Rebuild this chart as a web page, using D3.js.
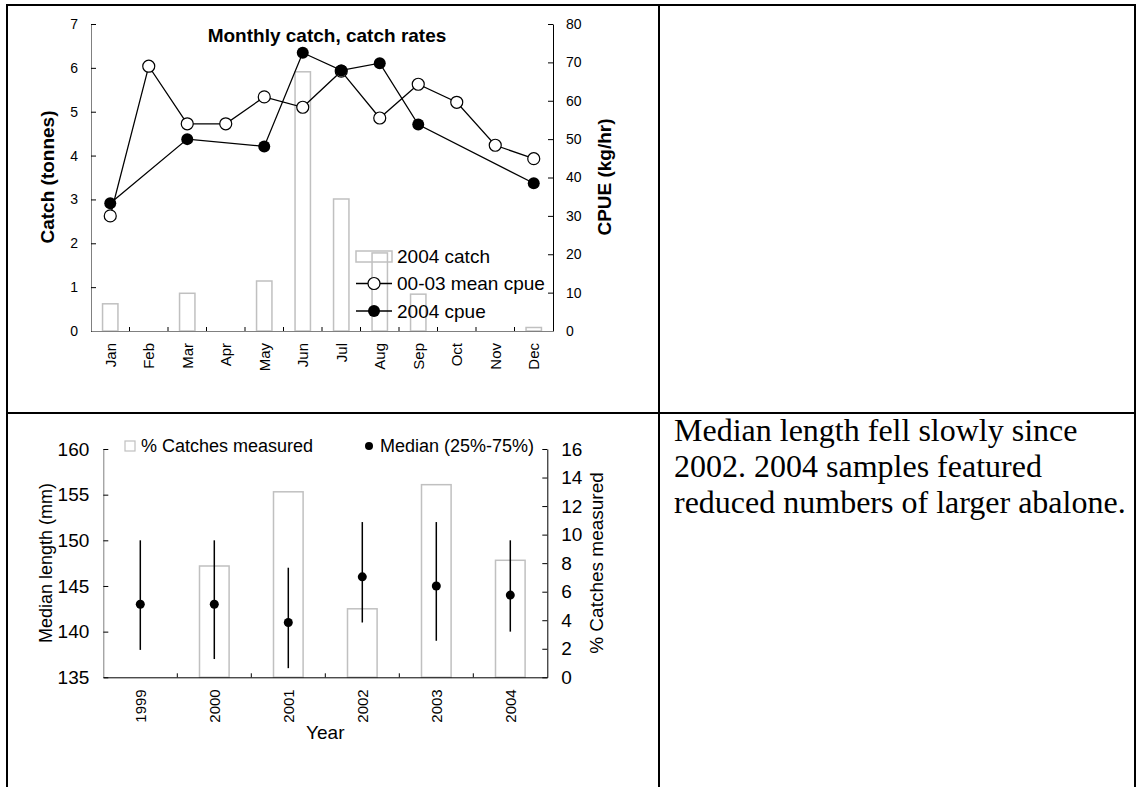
<!DOCTYPE html>
<html>
<head>
<meta charset="utf-8">
<script src="https://cdn.jsdelivr.net/npm/d3@7"></script>
<style>
body { margin: 0; background: #fff; }
</style>
</head>
<body>
<svg id="chart" width="1137" height="787"></svg>
<script>
// monthly catch + catch rates (top chart)
const months = ["Jan", "Feb", "Mar", "Apr", "May", "Jun", "Jul", "Aug", "Sep", "Oct", "Nov", "Dec"];
const catch2004 = [0.62, 0, 0.86, 0, 1.14, 5.91, 3.01, 1.78, 0.84, 0, 0, 0.08];
const cpueMean0003 = [30.0, 69.0, 54.0, 54.0, 61.0, 58.3, 67.7, 55.5, 64.3, 59.6, 48.4, 44.9];
const cpue2004 = [33.3, null, 50.0, null, 48.1, 72.5, 67.9, 69.8, 53.8, null, null, 38.5];
const catchTicks = [0, 1, 2, 3, 4, 5, 6, 7];
const cpueTicks = [0, 10, 20, 30, 40, 50, 60, 70, 80];

// length samples (bottom chart)
const years = ["1999", "2000", "2001", "2002", "2003", "2004"];
const pctMeasured = [0, 7.8, 13.0, 4.8, 13.5, 8.2];
const medianLen = [143, 143, 141, 146, 145, 144];
const lenQ25 = [138, 137, 136, 141, 139, 140];
const lenQ75 = [150, 150, 147, 152, 152, 150];
const lenTicks = [135, 140, 145, 150, 155, 160];
const pctTicks = [0, 2, 4, 6, 8, 10, 12, 14, 16];

const noteLines = ["Median length fell slowly since", "2002. 2004 samples featured", "reduced numbers of larger abalone."];

const sans = "'Liberation Sans', Arial, sans-serif";
const serif = "'Liberation Serif', 'Times New Roman', serif";
const barGrey = "#c0c0c0";
const fmt = d3.format("d");

var svg = d3.select("#chart");
svg.append("rect").attr("width", 1137).attr("height", 787).attr("fill", "#fff");

// table grid
var grid = svg.append("g").attr("stroke", "#000").attr("stroke-width", 2);
grid.append("line").attr("x1", 7).attr("x2", 7).attr("y1", 4).attr("y2", 787);
grid.append("line").attr("x1", 659).attr("x2", 659).attr("y1", 4).attr("y2", 787);
grid.append("line").attr("x1", 1135).attr("x2", 1135).attr("y1", 4).attr("y2", 787);
grid.append("line").attr("x1", 6).attr("x2", 1136).attr("y1", 5).attr("y2", 5);
grid.append("line").attr("x1", 6).attr("x2", 1136).attr("y1", 413).attr("y2", 413);

function styleAxis(g, size, domainColor) {
    g.attr("font-family", sans).attr("font-size", size);
    g.select(".domain").attr("stroke", domainColor);
    g.selectAll(".tick line").attr("stroke", "#000");
    g.selectAll("text").attr("fill", "#000");
}

// ---------- top chart ----------
var monthly = svg.append("g");
var x1 = d3.scaleBand().domain(months).range([91, 553]);
var yC = d3.scaleLinear().domain([0, 7]).range([331, 24]);
var yR = d3.scaleLinear().domain([0, 80]).range([331, 24]);

var monthData = months.map((m, i) => ({ m: m, c: catch2004[i], mean: cpueMean0003[i], v: cpue2004[i] }));

monthly.selectAll("rect.bar")
    .data(monthData.filter(d => d.c > 0))
    .join("rect")
    .attr("class", "bar")
    .attr("x", d => x1(d.m) + x1.bandwidth() * 0.3)
    .attr("width", x1.bandwidth() * 0.4)
    .attr("y", d => yC(d.c))
    .attr("height", d => yC(0) - yC(d.c))
    .attr("fill", "none")
    .attr("stroke", barGrey)
    .attr("stroke-width", 1.5);

var axL = monthly.append("g")
    .attr("transform", "translate(91,0)")
    .call(d3.axisLeft(yC).tickValues(catchTicks).tickFormat(fmt).tickSizeInner(-5).tickSizeOuter(0).tickPadding(13));
styleAxis(axL, 14, "#808080");

var axR = monthly.append("g")
    .attr("transform", "translate(553,0)")
    .call(d3.axisRight(yR).tickValues(cpueTicks).tickFormat(fmt).tickSizeInner(-5).tickSizeOuter(0).tickPadding(13));
styleAxis(axR, 14, "#000");

var axB = monthly.append("g")
    .attr("transform", "translate(0,331)")
    .call(d3.axisBottom(x1).tickSize(0).tickPadding(0));
styleAxis(axB, 15, "#808080");
axB.selectAll("text")
    .attr("transform", "rotate(-90)")
    .attr("text-anchor", "end")
    .attr("x", -12)
    .attr("y", 0)
    .attr("dy", "0.35em");
monthly.selectAll("line.mtick")
    .data(months.slice(1))
    .join("line")
    .attr("class", "mtick")
    .attr("x1", d => x1(d)).attr("x2", d => x1(d))
    .attr("y1", yC(0)).attr("y2", yC(0) - 4)
    .attr("stroke", "#000");

var cx = d => x1(d.m) + x1.bandwidth() / 2;
var lineMean = d3.line().x(cx).y(d => yR(d.mean));
var line2004 = d3.line().x(cx).y(d => yR(d.v));
var pts2004 = monthData.filter(d => d.v != null);

monthly.append("path").attr("d", lineMean(monthData))
    .attr("fill", "none").attr("stroke", "#000").attr("stroke-width", 1.3);
monthly.selectAll("circle.mean")
    .data(monthData)
    .join("circle")
    .attr("class", "mean")
    .attr("cx", cx).attr("cy", d => yR(d.mean)).attr("r", 6)
    .attr("fill", "#fff").attr("stroke", "#000").attr("stroke-width", 1.2);

monthly.append("path").attr("d", line2004(pts2004))
    .attr("fill", "none").attr("stroke", "#000").attr("stroke-width", 1.3);
monthly.selectAll("circle.c04")
    .data(pts2004)
    .join("circle")
    .attr("class", "c04")
    .attr("cx", cx).attr("cy", d => yR(d.v)).attr("r", 6)
    .attr("fill", "#000");

monthly.append("text")
    .attr("x", 327).attr("y", 42)
    .attr("text-anchor", "middle")
    .attr("font-family", sans).attr("font-size", 19).attr("font-weight", "bold")
    .text("Monthly catch, catch rates");

monthly.append("text")
    .attr("transform", "translate(47,177) rotate(-90)")
    .attr("text-anchor", "middle").attr("dy", "0.35em")
    .attr("font-family", sans).attr("font-size", 19).attr("font-weight", "bold")
    .text("Catch (tonnes)");

monthly.append("text")
    .attr("transform", "translate(604,177) rotate(-90)")
    .attr("text-anchor", "middle").attr("dy", "0.35em")
    .attr("font-family", sans).attr("font-size", 19).attr("font-weight", "bold")
    .text("CPUE (kg/hr)");

// legend
var leg = monthly.append("g").attr("font-family", sans).attr("font-size", 19);
leg.append("rect").attr("x", 356).attr("y", 251).attr("width", 36).attr("height", 11)
    .attr("fill", "none").attr("stroke", barGrey).attr("stroke-width", 1.5);
leg.append("text").attr("x", 397).attr("y", 256).attr("dy", "0.35em").text("2004 catch");
leg.append("line").attr("x1", 356).attr("x2", 392).attr("y1", 283.5).attr("y2", 283.5)
    .attr("stroke", "#000").attr("stroke-width", 1.3);
leg.append("circle").attr("cx", 374).attr("cy", 283.5).attr("r", 6)
    .attr("fill", "#fff").attr("stroke", "#000").attr("stroke-width", 1.2);
leg.append("text").attr("x", 397).attr("y", 283.5).attr("dy", "0.35em").text("00-03 mean cpue");
leg.append("line").attr("x1", 356).attr("x2", 392).attr("y1", 311).attr("y2", 311)
    .attr("stroke", "#000").attr("stroke-width", 1.3);
leg.append("circle").attr("cx", 374).attr("cy", 311).attr("r", 6).attr("fill", "#000");
leg.append("text").attr("x", 397).attr("y", 311).attr("dy", "0.35em").text("2004 cpue");

// ---------- bottom chart ----------
var lengths = svg.append("g");
var x2 = d3.scaleBand().domain(years).range([103.3, 547.3]);
var yL = d3.scaleLinear().domain([135, 160]).range([677.3, 449]);
var yP = d3.scaleLinear().domain([0, 16]).range([677.3, 449]);

var yearData = years.map((y, i) => ({ y: y, p: pctMeasured[i], med: medianLen[i], lo: lenQ25[i], hi: lenQ75[i] }));
var cx2 = d => x2(d.y) + x2.bandwidth() / 2;

lengths.selectAll("rect.pbar")
    .data(yearData.filter(d => d.p > 0))
    .join("rect")
    .attr("class", "pbar")
    .attr("x", d => x2(d.y) + x2.bandwidth() * 0.3)
    .attr("width", x2.bandwidth() * 0.4)
    .attr("y", d => yP(d.p))
    .attr("height", d => yP(0) - yP(d.p))
    .attr("fill", "#fff")
    .attr("stroke", barGrey)
    .attr("stroke-width", 1.5);

var axL2 = lengths.append("g")
    .attr("transform", "translate(103.3,0)")
    .call(d3.axisLeft(yL).tickValues(lenTicks).tickFormat(fmt).tickSizeInner(-5).tickSizeOuter(0).tickPadding(14));
styleAxis(axL2, 19, "#808080");

var axR2 = lengths.append("g")
    .attr("transform", "translate(547.3,0)")
    .call(d3.axisRight(yP).tickValues(pctTicks).tickFormat(fmt).tickSizeInner(-5).tickSizeOuter(0).tickPadding(14));
styleAxis(axR2, 19, "#000");

var axB2 = lengths.append("g")
    .attr("transform", "translate(0,677.3)")
    .call(d3.axisBottom(x2).tickSize(0).tickPadding(0));
styleAxis(axB2, 15, "#000");
axB2.selectAll("text")
    .attr("transform", "rotate(-90)")
    .attr("text-anchor", "end")
    .attr("x", -12)
    .attr("y", 0)
    .attr("dy", "0.35em");
lengths.selectAll("line.ytick")
    .data(years.slice(1))
    .join("line")
    .attr("class", "ytick")
    .attr("x1", d => x2(d)).attr("x2", d => x2(d))
    .attr("y1", yL(135)).attr("y2", yL(135) - 4)
    .attr("stroke", "#000");

lengths.selectAll("line.whisker")
    .data(yearData)
    .join("line")
    .attr("class", "whisker")
    .attr("x1", cx2).attr("x2", cx2)
    .attr("y1", d => yL(d.lo)).attr("y2", d => yL(d.hi))
    .attr("stroke", "#000").attr("stroke-width", 1.5);
lengths.selectAll("circle.med")
    .data(yearData)
    .join("circle")
    .attr("class", "med")
    .attr("cx", cx2).attr("cy", d => yL(d.med)).attr("r", 4.5)
    .attr("fill", "#000");

lengths.append("text")
    .attr("transform", "translate(46,563) rotate(-90)")
    .attr("text-anchor", "middle").attr("dy", "0.35em")
    .attr("font-family", sans).attr("font-size", 18)
    .text("Median length (mm)");
lengths.append("text")
    .attr("transform", "translate(596,563) rotate(-90)")
    .attr("text-anchor", "middle").attr("dy", "0.35em")
    .attr("font-family", sans).attr("font-size", 19)
    .text("% Catches measured");
lengths.append("text")
    .attr("x", (103.3 + 547.3) / 2).attr("y", 739)
    .attr("text-anchor", "middle")
    .attr("font-family", sans).attr("font-size", 19)
    .text("Year");

var leg2 = lengths.append("g").attr("font-family", sans).attr("font-size", 18);
leg2.append("rect").attr("x", 125).attr("y", 441).attr("width", 10).attr("height", 10)
    .attr("fill", "#fff").attr("stroke", barGrey).attr("stroke-width", 1.2);
leg2.append("text").attr("x", 141).attr("y", 446).attr("dy", "0.35em").text("% Catches measured");
leg2.append("circle").attr("cx", 369).attr("cy", 446).attr("r", 4).attr("fill", "#000");
leg2.append("text").attr("x", 380).attr("y", 446).attr("dy", "0.35em").text("Median (25%-75%)");

// ---------- note text ----------
svg.append("g")
    .attr("font-family", serif).attr("font-size", 32)
    .selectAll("text")
    .data(noteLines)
    .join("text")
    .attr("x", 674)
    .attr("y", (d, i) => 441 + i * 36)
    .text(d => d);
</script>
</body>
</html>
